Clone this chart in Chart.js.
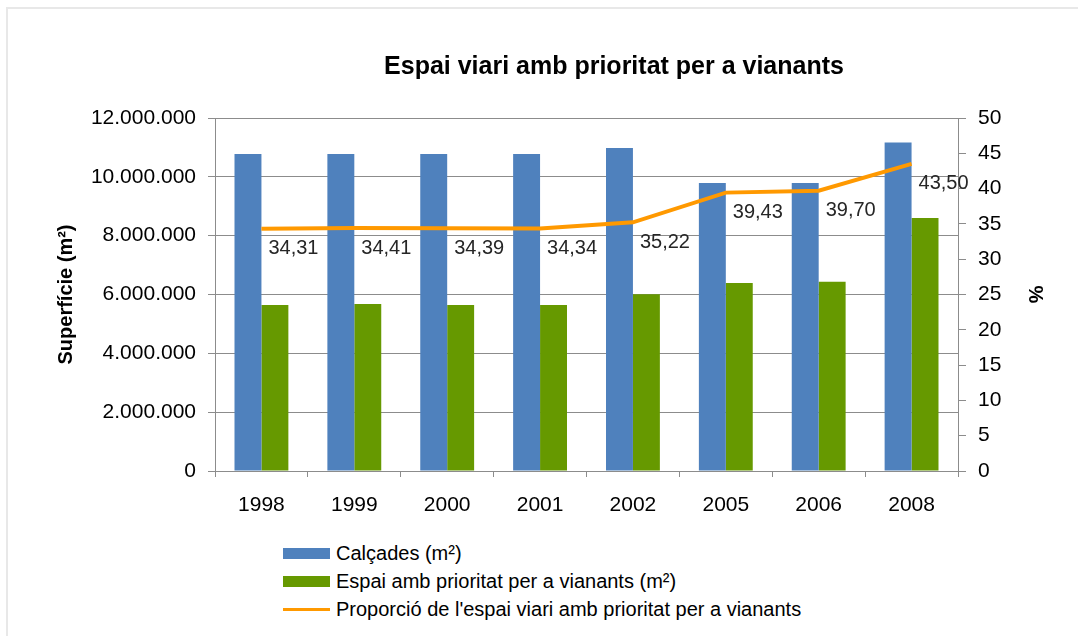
<!DOCTYPE html>
<html>
<head>
<meta charset="utf-8">
<script src="https://cdn.jsdelivr.net/npm/chart.js@4.4.1/dist/chart.umd.min.js"></script>
<style>
    body { margin: 0; background: #fff; font-family: "Liberation Sans", Arial, sans-serif; }
    #wrap { position: relative; width: 1078px; height: 636px; overflow: hidden; }
    #frame { position: absolute; left: 6px; top: 7px; width: 1200px; height: 700px; border-left: 2px solid #e8e8e8; border-top: 2px solid #e8e8e8; }
    #title { position: absolute; left: 614px; top: 53px; transform: translateX(-50%); white-space: nowrap; font-weight: bold; font-size: 25px; line-height: 25px; color: #000; }
    #chart { position: absolute; left: 0; top: 0; }
    #legend { position: absolute; left: 283px; top: 539px; }
    .legend-row { display: flex; align-items: center; height: 28px; font-size: 20px; color: #000; white-space: nowrap; }
    .legend-mark { width: 47px; margin-right: 6px; }
</style>
</head>
<body>
<div id="wrap">
    <div id="frame"></div>
    <canvas id="chart" width="1078" height="530"></canvas>
    <div id="title">Espai viari amb prioritat per a vianants</div>
    <div id="legend"></div>
</div>
<script>
// Data
const years = ['1998', '1999', '2000', '2001', '2002', '2005', '2006', '2008'];
const calcades = [10780000, 10780000, 10780000, 10780000, 10980000, 9790000, 9790000, 11170000];
const espaiPrioritat = [5640000, 5680000, 5640000, 5640000, 6010000, 6390000, 6430000, 8600000];
const proporcio = [34.31, 34.41, 34.39, 34.34, 35.22, 39.43, 39.70, 43.50];

const seriesNames = [
    'Calçades (m²)',
    'Espai amb prioritat per a vianants (m²)',
    "Proporció de l'espai viari amb prioritat per a vianants"
];

const gridColor = '#8c8c8c';
const fontFamily = '"Liberation Sans", Arial, sans-serif';

// Format helpers
const formatThousands = (v) => String(v).replace(/\B(?=(\d{3})+(?!\d))/g, '.');
const formatPct = (v) => v.toFixed(2).replace('.', ',');

// Line value labels
const lineLabels = {
    id: 'lineLabels',
    afterDatasetsDraw(chart) {
        const ctx = chart.ctx;
        const meta = chart.getDatasetMeta(2);
        ctx.save();
        ctx.font = '20px ' + fontFamily;
        ctx.fillStyle = '#262626';
        ctx.textAlign = 'left';
        ctx.textBaseline = 'middle';
        meta.data.forEach((pt, i) => {
            ctx.fillText(formatPct(proporcio[i]), pt.x + 7, pt.y + 20);
        });
        ctx.restore();
    }
};

const ctx = document.getElementById('chart').getContext('2d');
const chart = new Chart(ctx, {
    type: 'bar',
    data: {
        labels: years,
        datasets: [
            {
                label: seriesNames[0],
                data: calcades,
                backgroundColor: '#4F81BD',
                yAxisID: 'y',
                order: 1,
                categoryPercentage: 0.58,
                barPercentage: 1.0
            },
            {
                label: seriesNames[1],
                data: espaiPrioritat,
                backgroundColor: '#669900',
                yAxisID: 'y',
                order: 1,
                categoryPercentage: 0.58,
                barPercentage: 1.0
            },
            {
                type: 'line',
                label: seriesNames[2],
                data: proporcio,
                borderColor: '#FF9900',
                backgroundColor: '#FF9900',
                borderWidth: 4,
                pointRadius: 0,
                tension: 0,
                yAxisID: 'y1',
                order: 0
            }
        ]
    },
    options: {
        responsive: false,
        animation: false,
        layout: { padding: { top: 118, left: 50, right: 27, bottom: 9 } },
        plugins: {
            legend: { display: false },
            title: { display: false },
            tooltip: { enabled: false }
        },
        scales: {
            x: {
                afterFit: (s) => { s.height = 50; },
                grid: { display: true, drawOnChartArea: false, drawTicks: true, tickLength: 6, color: gridColor, offset: true },
                border: { color: gridColor },
                ticks: { color: '#000', font: { size: 21, family: fontFamily }, padding: 16 }
            },
            y: {
                position: 'left',
                min: 0,
                max: 12000000,
                afterFit: (s) => { s.width = 165; },
                grid: { color: gridColor, tickLength: 7 },
                border: { color: gridColor },
                ticks: {
                    stepSize: 2000000,
                    color: '#000',
                    padding: 12,
                    font: { size: 21, family: fontFamily },
                    callback: (v) => formatThousands(v)
                },
                title: {
                    display: true,
                    text: 'Superfície (m²)',
                    color: '#000',
                    font: { size: 20, weight: 'bold', family: fontFamily }
                }
            },
            y1: {
                position: 'right',
                min: 0,
                max: 50,
                afterFit: (s) => { s.width = 93; },
                grid: { drawOnChartArea: false, tickLength: 8, color: gridColor },
                border: { color: gridColor },
                ticks: {
                    stepSize: 5,
                    color: '#000',
                    padding: 12,
                    font: { size: 21, family: fontFamily }
                },
                title: {
                    display: true,
                    text: '%',
                    color: '#000',
                    font: { size: 20, weight: 'bold', family: fontFamily }
                }
            }
        }
    },
    plugins: [lineLabels]
});

// Legend
const legendEl = document.getElementById('legend');
chart.data.datasets.forEach((ds) => {
    const row = document.createElement('div');
    row.className = 'legend-row';
    const mark = document.createElement('span');
    mark.className = 'legend-mark';
    if (ds.type === 'line') {
        mark.style.height = '3px';
        mark.style.background = ds.borderColor;
    } else {
        mark.style.height = '11px';
        mark.style.background = ds.backgroundColor;
    }
    const text = document.createElement('span');
    text.textContent = ds.label;
    row.appendChild(mark);
    row.appendChild(text);
    legendEl.appendChild(row);
});
</script>
</body>
</html>
